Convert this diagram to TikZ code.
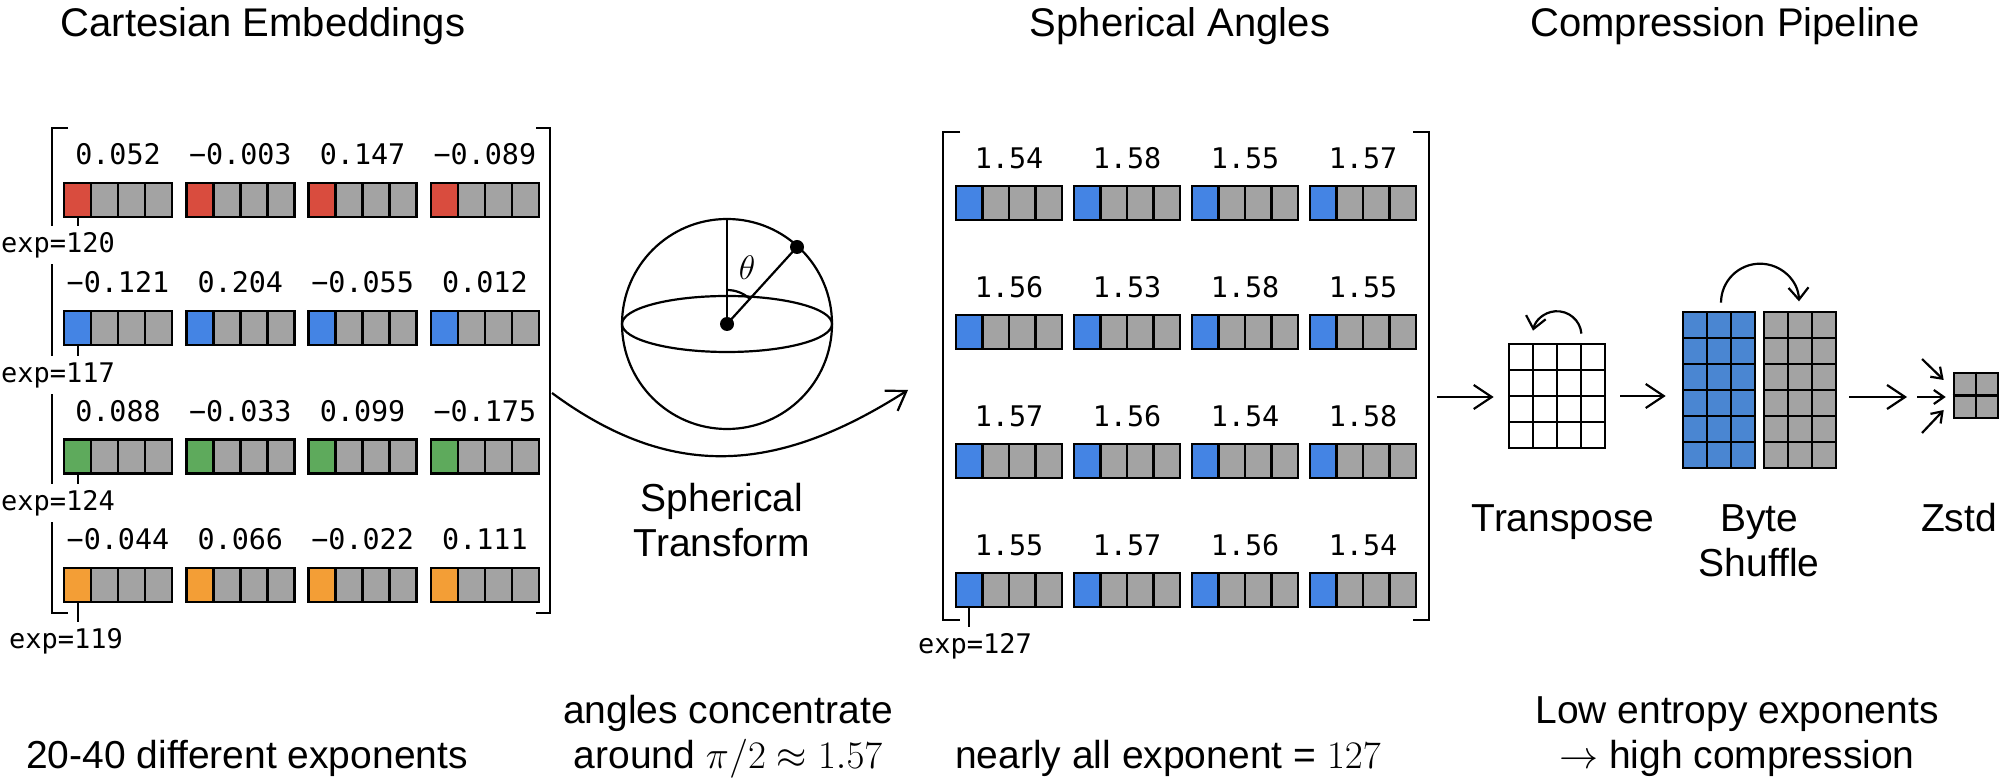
\RequirePackage{fix-cm}
\documentclass[tikz,border=0pt]{standalone}
\usepackage[no-math]{fontspec}
\setmainfont{Liberation Sans}
\newfontfamily\monofont{DejaVu Sans Mono}
\usetikzlibrary{arrows.meta}
\definecolor{redc}{RGB}{217,76,62}
\definecolor{bluec}{RGB}{68,132,228}
\definecolor{shufblue}{RGB}{74,134,210}
\definecolor{greenc}{RGB}{94,170,92}
\definecolor{orangec}{RGB}{243,158,54}
\definecolor{grayc}{RGB}{163,163,163}
\tikzset{
  title/.style={font=\fontsize{20}{24}\selectfont, anchor=base, inner sep=0pt},
  lbl/.style={font=\fontsize{19.5}{23}\selectfont, anchor=base, inner sep=0pt},
  num/.style={font=\monofont\fontsize{14.2}{17}\selectfont, inner sep=0pt},
  explbl/.style={font=\monofont\fontsize{13.5}{16}\selectfont, fill=white, inner xsep=1pt, inner ysep=3pt, anchor=north},
  cellline/.style={draw=black, line width=1.2pt},
  brk/.style={line width=1pt},
  tick/.style={line width=1pt},
  sph/.style={line width=1.1pt},
  arr/.style={line width=1.1pt, -{Straight Barb[length=9pt,width=12pt]}},
  carr/.style={line width=1.1pt, -{Straight Barb[length=6pt,width=10pt]}},
  sarr/.style={line width=1.1pt, -{Straight Barb[length=5pt,width=7pt]}},
  gridbox/.style={draw=black, line width=1.3pt, inner sep=0pt},
  gline/.style={line width=1.3pt},
}
\newcommand\bytegroup[5]{%
  \fill[#5] (#1,#2) rectangle ++(#3,#4);
  \fill[grayc] (#1+#3,#2) rectangle ++(3*#3,#4);
  \draw[cellline] (#1,#2) rectangle ++(4*#3,#4);
  \foreach \k in {1,2,3} \draw[cellline] (#1+\k*#3,#2) -- ++(0,#4);
}
\begin{document}
\begin{tikzpicture}[x=0.5pt,y=-0.5pt, line join=miter]
\useasboundingbox (0,0) rectangle (2000,779);

% titles
\node[title] (t1) at (263,37) {Cartesian Embeddings};
\node[title] (t2) at (1180,37) {Spherical Angles};
\node[title] (t3) at (1725,37) {Compression Pipeline};

% ---------------- left matrix ----------------
\draw[brk] (68,128) -| (52,613) -- (68,613);
\draw[brk] (536,128) -| (550,613) -- (536,613);
\foreach \r/\col in {0/redc,1/bluec,2/greenc,3/orangec}{
  \foreach \g in {0,1,2,3}{
    \pgfmathsetmacro\gx{64+122.3*\g}
    \pgfmathsetmacro\gy{183+128.3*\r}
    \bytegroup{\gx}{\gy}{27}{34}{\col}
  }
  \coordinate (Lc\r) at (77.5,{217+128.3*\r});
}
\foreach \r/\a/\b/\c/\d in {0/0.052/−0.003/0.147/−0.089,
                            1/−0.121/0.204/−0.055/0.012,
                            2/0.088/−0.033/0.099/−0.175,
                            3/−0.044/0.066/−0.022/0.111}{
  \foreach \v [count=\g from 0] in {\a,\b,\c,\d}{
    \node[num] (Ln\r\g) at ({118+122.3*\g},{154+128.5*\r}) {\v};
  }
}
\node[explbl] (E0) at (58,226) {exp=120};
\node[explbl] (E1) at (58,356) {exp=117};
\node[explbl] (E2) at (58,484) {exp=124};
\node[explbl] (E3) at (66,622) {exp=119};
\foreach \r in {0,1,2,3}{ \draw[tick] (Lc\r) -- (Lc\r |- E\r.north); }

% ---------------- sphere ----------------
\node[circle, draw, sph, minimum size=105pt, inner sep=0pt] (sphere) at (727,324) {};
\draw[sph] (sphere.center) ellipse[x radius=105, y radius=28];
\coordinate (pt) at (797,247);
\draw[sph] (sphere.center) -- (sphere.north);
\draw[sph] (sphere.center) -- (pt);
\draw[sph] (727,290) arc[start angle=-90, end angle=-47.7, radius=34];
\fill (sphere.center) circle[radius=7];
\fill (pt) circle[radius=7];
\node[font=\fontsize{17}{20}\selectfont, inner sep=0pt] (th) at (747,268) {$\theta$};

\node[lbl] (st1) at (722,512) {Spherical};
\node[lbl] (st2) at (722,557) {Transform};

% curved arrow
\coordinate (Lbr) at (552,393);
\coordinate (Rbl) at (908,390);
\draw[arr] (Lbr) .. controls +(118,87) and +(-133,85) .. (Rbl);

% ---------------- right matrix ----------------
\draw[brk] (960,132) -| (943,620) -- (960,620);
\draw[brk] (1413,132) -| (1429,620) -- (1413,620);
\foreach \r in {0,1,2,3}{
  \foreach \g in {0,1,2,3}{
    \pgfmathsetmacro\gx{956+118*\g}
    \pgfmathsetmacro\gy{186+129*\r}
    \bytegroup{\gx}{\gy}{26.5}{34}{bluec}
  }
}
\coordinate (Rc3) at (969.25,607);
\foreach \r/\a/\b/\c/\d in {0/1.54/1.58/1.55/1.57,
                            1/1.56/1.53/1.58/1.55,
                            2/1.57/1.56/1.54/1.58,
                            3/1.55/1.57/1.56/1.54}{
  \foreach \v [count=\g from 0] in {\a,\b,\c,\d}{
    \node[num] (Rn\r\g) at ({1009+118*\g},{158+129*\r}) {\v};
  }
}
\node[explbl] (E4) at (975,627) {exp=127};
\draw[tick] (Rc3) -- (Rc3 |- E4.north);

% ---------------- pipeline ----------------
% transpose grid
\node[gridbox, fill=white, minimum width=48pt, minimum height=52pt] (tp) at (1557,396) {};
\foreach \k in {1,2,3}{
  \draw[gline] (1509+24*\k,344) -- ++(0,104);
  \draw[gline] (1509,344+26*\k) -- ++(96,0);
}
% byte shuffle grids
\node[gridbox, fill=shufblue, minimum width=36pt, minimum height=78pt] (bs) at (1719,390) {};
\node[gridbox, fill=grayc, minimum width=36pt, minimum height=78pt] (gs) at (1800,390) {};
\foreach \k in {1,2}{
  \draw[gline] (1683+24*\k,312) -- ++(0,156);
  \draw[gline] (1764+24*\k,312) -- ++(0,156);
}
\foreach \k in {1,...,5}{
  \draw[gline] (1683,312+26*\k) -- ++(72,0);
  \draw[gline] (1764,312+26*\k) -- ++(72,0);
}
% zstd grid
\node[gridbox, fill=grayc, minimum width=22pt, minimum height=22.5pt] (zs) at (1976,395.5) {};
\draw[gline] (zs.north) -- (zs.south);
\draw[gline] (zs.west) -- (zs.east);

% arrows
\coordinate (Rbr) at (1437,397);
\draw[arr, shorten >=7pt] (Rbr) -- (Rbr -| tp.west);
\draw[arr, shorten <=7pt, shorten >=8pt] (tp.east) -- (tp.east -| bs.west);
\coordinate (zA) at (1907,397);
\draw[arr, shorten <=6pt] (zA -| gs.east) -- (zA);
\coordinate (zu) at (1922,359);
\coordinate (zm) at (1917,397);
\coordinate (zl) at (1922,433);
\draw[sarr] (zu) -- ([shift={(-9,-15.5)}]zs.west);
\draw[sarr, shorten >=3.5pt] (zm) -- (zm -| zs.west);
\draw[sarr] (zl) -- ([shift={(-9,14.5)}]zs.west);

% curved arrows above
\draw[carr] ([shift={(24.4,-9.1)}]tp.north) arc[start angle=-5, end angle=-168, radius=24.5];
\draw[carr] ([shift={(2,-8)}]bs.north) arc[start angle=180, end angle=358, radius=39];

% pipeline labels
\node[lbl] (tpl) at (1563,532) {Transpose};
\node[lbl] (bsl1) at (1759,532) {Byte};
\node[lbl] (bsl2) at (1759,577) {Shuffle};
\node[lbl] (zsl) at (1959,532) {Zstd};

% bottom captions
\node[lbl] (b1) at (247,768) {20-40 different exponents};
\node[lbl] (b2a) at (728,723) {angles concentrate};
\node[lbl] (b2b) at (728,768) {around $\pi/2\approx 1.57$};
\node[lbl] (b3) at (1168,768) {nearly all exponent = $127$};
\node[lbl] (b4a) at (1737,723) {Low entropy exponents};
\node[lbl] (b4b) at (1737,768) {$\rightarrow$ high compression};
\end{tikzpicture}
\end{document}
